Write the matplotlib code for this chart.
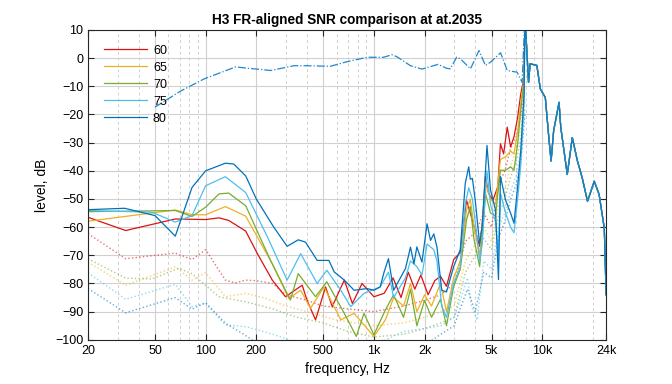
import matplotlib
matplotlib.use("Agg")
import matplotlib.pyplot as plt
from matplotlib.ticker import FixedLocator, NullFormatter

plt.rcParams['font.family'] = ['Liberation Sans', 'DejaVu Sans']

levels = ["60", "65", "70", "75", "80"]
colors = ["#dd1111", "#edb120", "#77ac30", "#4dbeee", "#0072bd"]

# frequency response (dash-dot), shared by all levels
fr_f = [50, 71, 97.7, 151, 177, 212, 243, 278, 334, 400, 550, 690, 910, 1140, 1280,
        1370, 1650, 1930, 2410, 2700, 2850, 3100, 3260, 3750, 4210, 4600, 4940, 5660,
        6200, 7100, 7600, 7900, 8300, 8480, 9300, 9750, 10440, 11000, 11300, 11700,
        12600, 12900, 14100, 15100, 16200, 17300, 18600, 20400, 21800, 23400, 24000]
fr_db = [-17.4, -11.7, -7.4, -3.1, -3.6, -4, -4.4, -3.7, -2.7, -2.7, -2.9, -1.3, 0.3, 0.3, 1.2,
         0.5, -2.7, -3.9, -2.2, -3.6, -3.8, 0.3, -0.2, -3.8, 2.7, -2.6, -1.4, 1.9,
         -4.4, -5, -8.6, 15, -8.6, -2, -2.6, -10.9, -14, -29.4, -36.5, -25.8,
         -15.7, -24.6, -41.3, -28.2, -36.5, -42.5, -50.8, -43.7, -48.4, -60.4, -84]

# solid curves below 8 kHz (above that they follow the FR)
red_f = [20, 33.5, 66, 100, 120, 137, 173, 203, 249, 298, 375, 400, 450, 516, 565, 667, 745,
         850, 1000, 1150, 1300, 1450, 1600, 1750, 1900, 2100, 2300, 2486, 2700, 2980, 3260,
         3550, 3740, 3940, 4250, 4430, 4600, 4800, 5100, 5450, 5650, 5900, 6200, 6490, 6800,
         7150, 7460, 7810, 7900]
red_db = [-56.5, -61.2, -57.1, -57.3, -56.7, -57.6, -61.4, -69.4, -78.8, -84.7, -80.6, -85.9,
          -92.9, -81.2, -88.2, -78.8, -87.1, -80, -84.7, -83.5, -78, -85, -76, -82, -77, -84,
          -79, -77.4, -81, -71.5, -69, -50.4, -55, -59.8, -66.8, -57.4, -42, -48, -50.4, -45.6,
          -30.4, -34, -24.5, -31.5, -28, -21, -12.7, -6.8, 15]

orange_f = [20, 66, 83, 100, 131, 173, 249, 312, 367, 420, 505, 636, 763, 1000, 1170, 1310,
            1500, 1650, 1800, 2000, 2200, 2486, 2700, 2980, 3260, 3550, 3740, 3940, 4250, 4430,
            4600, 4930, 5280, 5650, 6060, 6490, 6800, 7150, 7460, 7810, 7900]
orange_db = [-57.9, -53.9, -55.6, -55.6, -52.7, -56.1, -73, -85.3, -82.4, -88.8, -81.2, -92.9,
             -90.6, -98.8, -92.9, -85, -88, -80, -90, -84, -88, -80, -90, -78, -72, -54, -50,
             -60, -70, -58, -44, -50, -52, -36, -35, -33, -34, -26, -16, -7, 15]

green_f = [20, 66, 83, 100, 120, 137, 173, 243, 319, 355, 450, 525, 667, 786, 873, 1000, 1170,
           1310, 1500, 1650, 1800, 2000, 2200, 2486, 2700, 2980, 3260, 3550, 3740, 3940, 4250,
           4430, 4600, 4930, 5280, 5650, 6060, 6490, 6800, 7150, 7460, 7810, 7900]
green_db = [-54.5, -54.1, -56.2, -52.9, -48.2, -47.9, -52.4, -71.8, -85.9, -76.5, -84.7, -79.4,
            -90.6, -98.8, -90.6, -98.2, -89.4, -84, -92, -82, -95, -86, -92, -85.6, -95, -81,
            -75, -57.4, -52.7, -64.5, -74, -62, -48, -55, -56, -39.8, -39.8, -38.6, -39.8,
            -30.4, -18.6, -8, 15]

ltblue_f = [20, 48, 66, 83, 100, 131, 173, 233, 305, 367, 460, 525, 636, 728, 873, 1090, 1220,
            1310, 1540, 1650, 1800, 1930, 2070, 2270, 2370, 2530, 2700, 2980, 3260, 3490, 3660,
            3850, 4000, 4250, 4400, 4700, 4930, 5280, 5500, 5650, 6060, 6490, 6800, 7150, 7460,
            7810, 7900]
ltblue_db = [-54.1, -54.7, -58.2, -55.9, -45.3, -42.1, -47.7, -63.5, -78.8, -69.4, -80, -75.3,
             -82.4, -88.2, -83.5, -81.2, -76, -85, -78, -72, -74, -77, -66, -68, -72, -88, -92,
             -80, -74, -52, -46, -50, -58, -72, -66, -40, -52, -58, -70, -48, -55, -60, -62,
             -50, -38, -15, 15]

blue_f = [20, 33, 50, 66, 83, 100, 131, 147, 173, 200, 254, 305, 355, 392, 460, 540, 581, 667,
          763, 912, 1000, 1090, 1150, 1220, 1310, 1540, 1650, 1730, 1800, 1930, 2070, 2170, 2270,
          2370, 2530, 2700, 2980, 3260, 3490, 3660, 3740, 3850, 4000, 4250, 4400, 4700, 4930,
          5280, 5500, 5650, 6060, 6490, 6800, 7150, 7460, 7810, 7900]
blue_db = [-53.8, -53.3, -55.9, -63.2, -45.9, -40, -37.3, -37.6, -41.8, -50, -60, -66.8, -64.5,
           -65.3, -71.8, -71.8, -75.9, -78.8, -82.4, -81.8, -82.4, -81.2, -75.9, -71.2, -82.4,
           -74.7, -67.1, -73, -67, -72.4, -58.8, -64.7, -62.4, -67.1, -82.4, -83, -74, -68,
           -44.5, -38.6, -43, -42.7, -50.4, -66, -59.8, -31, -46.8, -53.9, -78.6, -42, -50.4,
           -55, -58.6, -45.6, -32.7, -12.7, 15]

# noise floors (dotted)
red_nf = [20, 33.5, 66, 83, 100, 131, 150, 173, 200, 250, 300, 400, 500, 700, 1000, 1500, 2000,
          2500, 3000, 3500, 4000, 4500, 5000, 5500, 6000, 6500, 7000, 7500, 7900]
red_ndb = [-62.3, -71.2, -69.2, -71.5, -68, -78.8, -79.8, -78.8, -79, -80, -84, -86, -88, -89,
           -90, -88, -86, -84, -80, -65, -62, -55, -60, -45, -40, -32, -28, -20, -10]
orange_nf = [20, 33.5, 66, 83, 100, 131, 173, 220, 300, 400, 600, 1000, 1500, 2000, 2500, 3000,
             3500, 4000, 4500, 5000, 5500, 6000, 6500, 7000, 7500, 7900]
orange_ndb = [-72.4, -80.6, -74.1, -78.8, -76.2, -84.7, -83.5, -85, -88, -90, -93, -95, -94,
              -92, -90, -88, -72, -66, -60, -65, -52, -46, -38, -33, -24, -12]
green_nf = [20, 33.5, 48, 69, 83, 120, 173, 250, 350, 500, 700, 1000, 1500, 2000, 2500, 3000,
            3500, 4000, 4500, 5000, 5500, 6000, 6500, 7000, 7500, 7900]
green_ndb = [-71.2, -78.1, -78.4, -74.6, -76.5, -84.7, -86.5, -89, -92, -94, -97, -99, -98, -96,
             -94, -92, -76, -70, -64, -68, -56, -50, -42, -37, -28, -15]
ltblue_nf = [20, 33.5, 66, 83, 100, 131, 173, 250, 350, 1000, 1500, 2000, 2500, 3000, 3300, 3600,
             3800, 4100, 4500, 5000, 5500, 6000, 6500, 7000, 7500, 7900]
ltblue_ndb = [-76.2, -85.6, -80.3, -88.2, -87.1, -94.7, -95.3, -98, -101, -102, -97, -96, -95,
              -92, -85, -78, -88, -93, -72, -75, -60, -55, -47, -42, -32, -18]
blue_nf = [20, 33.5, 66, 83, 100, 131, 164, 200, 300, 2000, 2500, 3000, 3300, 3600, 4000, 4500,
           5000, 5500, 6000, 6500, 7000, 7500, 7900]
blue_ndb = [-81.8, -90.4, -85, -89.1, -86.8, -94.1, -97.6, -101, -104, -102, -98, -95, -88, -82,
            -90, -76, -78, -64, -58, -50, -45, -36, -20]

solid_f = [red_f, orange_f, green_f, ltblue_f, blue_f]
solid_db = [red_db, orange_db, green_db, ltblue_db, blue_db]
noise_f = [red_nf, orange_nf, green_nf, ltblue_nf, blue_nf]
noise_db = [red_ndb, orange_ndb, green_ndb, ltblue_ndb, blue_ndb]

tail_f = [f for f in fr_f if f > 7900]
tail_db = [d for f, d in zip(fr_f, fr_db) if f > 7900]

fig = plt.figure(figsize=(6.72, 3.84), dpi=100)
ax = fig.add_axes([0.131, 0.115, 0.771, 0.807])

for c, nf, ndb in zip(colors, noise_f, noise_db):
    ax.plot(nf, ndb, ':', color=c, lw=1.0, alpha=0.6)

for c, lab, sf, sdb in zip(colors, levels, solid_f, solid_db):
    ax.plot(sf + tail_f, sdb + tail_db, '-', color=c, lw=0.9, label=lab)

ax.plot(fr_f, fr_db, '-.', color="#1f88cc", lw=0.9)

ax.set_xscale('log')
ax.set_xlim(20, 24000)
ax.set_ylim(-100, 10)
ax.set_yticks(range(-100, 11, 10))
ax.xaxis.set_major_locator(FixedLocator([20, 50, 100, 200, 500, 1000, 2000, 5000, 10000, 24000]))
ax.set_xticklabels(["20", "50", "100", "200", "500", "1k", "2k", "5k", "10k", "24k"])
minor = [30, 40, 60, 70, 80, 90, 300, 400, 600, 700, 800, 900, 3000, 4000, 6000, 7000, 8000,
         9000, 20000]
ax.xaxis.set_minor_locator(FixedLocator(minor))
ax.xaxis.set_minor_formatter(NullFormatter())
ax.grid(True, which='major', color='#d0d0d0', lw=0.8)
ax.grid(True, which='minor', axis='x', color='#d0d0d0', lw=0.7, ls=(0, (3, 3)))
ax.set_axisbelow(True)
ax.tick_params(which='both', direction='in', top=True, right=True, labelsize=9, color='#262626')
ax.tick_params(which='minor', length=0)
ax.tick_params(which='major', length=4)
for s in ax.spines.values():
    s.set_color('#262626')
    s.set_linewidth(0.8)

ax.set_title("H3 FR-aligned SNR comparison at at.2035", fontsize=9.8, fontweight='bold', pad=4)
ax.set_xlabel("frequency, Hz", fontsize=10)
ax.set_ylabel("level, dB", fontsize=10)

ax.legend(loc='upper left', frameon=False, fontsize=9, handlelength=3.4, handletextpad=0.5,
          labelspacing=0.4, borderaxespad=0.4, bbox_to_anchor=(0.012, 0.985))

fig.savefig("out.png", dpi=100)
